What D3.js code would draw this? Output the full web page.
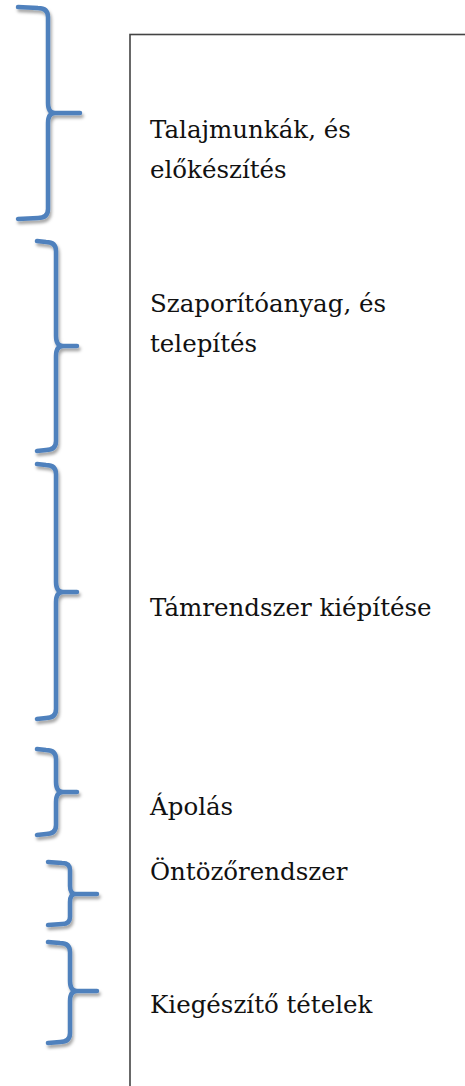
<!DOCTYPE html>
<html>
<head>
<meta charset="utf-8">
<script src="https://cdn.jsdelivr.net/npm/d3@7"></script>
<style>
  html, body { margin: 0; padding: 0; background: #fff; }
  svg { display: block; }
</style>
</head>
<body>
<svg id="chart" width="465" height="1086"></svg>
<script>
// ---- data ----
const categories = [
  ["Talajmunkák, és", "előkészítés"],
  ["Szaporítóanyag, és", "telepítés"],
  ["Támrendszer kiépítése"],
  ["Ápolás"],
  ["Öntözőrendszer"],
  ["Kiegészítő tételek"]
];
// vertical extents of each brace (document units)
const spanStart = [7, 241, 464, 749, 862, 942];
const spanEnd   = [219, 451, 719, 835, 925, 1043];
const spanMid   = [113, 346, 592, 792, 894, 991];
// label baseline position (document units)
const labelPos  = [138, 312, 616, 815, 880, 1013];
// brace indentation level (0 = widest)
const braceLevel = [0, 1, 1, 1, 2, 2];

// ---- layout / style ----
const W = 465, H = 1086;
const y = d3.scaleLinear().domain([0, 1086]).range([0, H]);
const levelX = [
  { end: 18, spine: 48, tip: 80 },
  { end: 37, spine: 56, tip: 77 },
  { end: 48, spine: 70, tip: 97 }
];
const braceColor = "#4f81bd";

const svg = d3.select("#chart");

const defs = svg.append("defs");
const f = defs.append("filter").attr("id", "shadow")
  .attr("x", "-50%").attr("y", "-10%").attr("width", "200%").attr("height", "120%");
f.append("feDropShadow").attr("dx", 1.5).attr("dy", 3).attr("stdDeviation", 1.6)
  .attr("flood-color", "#000").attr("flood-opacity", 0.35);

// frame
svg.append("rect")
  .attr("x", 130).attr("y", 34.5)
  .attr("width", 400).attr("height", 1100)
  .attr("fill", "none").attr("stroke", "#444").attr("stroke-width", 1.6);

function bracePath(i) {
  const L = levelX[braceLevel[i]];
  const t = y(spanStart[i]), b = y(spanEnd[i]), m = y(spanMid[i]);
  const r = Math.min(10, (m - t) / 4);
  const p = d3.path();
  p.moveTo(L.end, t);
  p.lineTo(L.spine - r, t + 1);
  p.quadraticCurveTo(L.spine, t + 1, L.spine, t + r);
  p.lineTo(L.spine, m - r);
  p.quadraticCurveTo(L.spine, m, L.spine + r * 0.7, m);
  p.lineTo(L.tip, m);
  p.moveTo(L.spine + r * 0.7, m);
  p.quadraticCurveTo(L.spine, m, L.spine, m + r);
  p.lineTo(L.spine, b - r);
  p.quadraticCurveTo(L.spine, b - 1, L.spine - r, b - 1);
  p.lineTo(L.end, b);
  return p.toString();
}

svg.append("g").attr("filter", "url(#shadow)")
  .selectAll("path")
  .data(categories)
  .join("path")
  .attr("d", (d, i) => bracePath(i))
  .attr("fill", "none")
  .attr("stroke", braceColor)
  .attr("stroke-width", 4.5)
  .attr("stroke-linecap", "round")
  .attr("stroke-linejoin", "round");

const labels = svg.append("g")
  .attr("font-family", "'DejaVu Serif', 'Liberation Serif', serif")
  .attr("font-size", 24.5)
  .attr("fill", "#111");

labels.selectAll("text")
  .data(categories)
  .join("text")
  .attr("x", 150)
  .attr("y", (d, i) => y(labelPos[i]))
  .each(function(d) {
    d3.select(this).selectAll("tspan")
      .data(d)
      .join("tspan")
      .attr("x", 150)
      .attr("dy", (t, j) => j === 0 ? 0 : 39.5)
      .text(t => t);
  });
</script>
</body>
</html>
